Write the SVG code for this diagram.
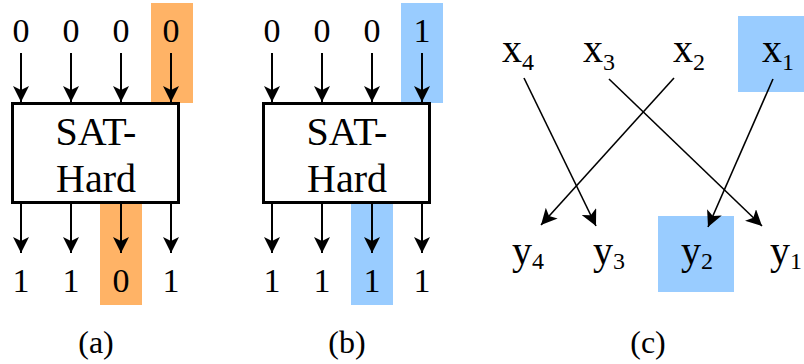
<svg xmlns="http://www.w3.org/2000/svg" width="804" height="364" viewBox="0 0 804 364">
<style>
.w{stroke:#000;stroke-width:2;fill:none}
.t{stroke:#000;stroke-width:1.6;fill:none}
.box{fill:#fff;stroke:#000;stroke-width:3}
.or{fill:#FFB366}
.bl{fill:#99CCFF}
</style>
<defs>
<marker id="ah" markerUnits="userSpaceOnUse" markerWidth="16" markerHeight="16" viewBox="0 0 16 16" refX="16" refY="8" orient="auto">
<path d="M0,0 L16,8 L0,16 L4,8 Z" fill="#000"/>
</marker>
</defs>
<g id="highlights">
<rect class="or" x="151" y="3" width="42" height="100"/>
<rect class="or" x="100" y="203" width="42" height="102"/>
<rect class="bl" x="401" y="3" width="42" height="100"/>
<rect class="bl" x="351" y="203" width="42" height="102"/>
<rect class="bl" x="738" y="16" width="76" height="76"/>
<rect class="bl" x="658" y="216" width="76" height="76"/>
</g>
<g id="connectors">
<line class="w" x1="21" y1="53" x2="21" y2="102" marker-end="url(#ah)"/>
<line class="w" x1="71" y1="53" x2="71" y2="102" marker-end="url(#ah)"/>
<line class="w" x1="121" y1="53" x2="121" y2="102" marker-end="url(#ah)"/>
<line class="w" x1="171" y1="53" x2="171" y2="102" marker-end="url(#ah)"/>
<line class="w" x1="21" y1="204" x2="21" y2="253" marker-end="url(#ah)"/>
<line class="w" x1="71" y1="204" x2="71" y2="253" marker-end="url(#ah)"/>
<line class="w" x1="121" y1="204" x2="121" y2="253" marker-end="url(#ah)"/>
<line class="w" x1="171" y1="204" x2="171" y2="253" marker-end="url(#ah)"/>
<line class="w" x1="272" y1="53" x2="272" y2="102" marker-end="url(#ah)"/>
<line class="w" x1="322" y1="53" x2="322" y2="102" marker-end="url(#ah)"/>
<line class="w" x1="372" y1="53" x2="372" y2="102" marker-end="url(#ah)"/>
<line class="w" x1="422" y1="53" x2="422" y2="102" marker-end="url(#ah)"/>
<line class="w" x1="272" y1="204" x2="272" y2="253" marker-end="url(#ah)"/>
<line class="w" x1="322" y1="204" x2="322" y2="253" marker-end="url(#ah)"/>
<line class="w" x1="372" y1="204" x2="372" y2="253" marker-end="url(#ah)"/>
<line class="w" x1="422" y1="204" x2="422" y2="253" marker-end="url(#ah)"/>
<line class="t" x1="524" y1="78" x2="596" y2="226" marker-end="url(#ah)"/>
<line class="t" x1="609" y1="79" x2="762" y2="226" marker-end="url(#ah)"/>
<line class="t" x1="674" y1="78" x2="541" y2="225" marker-end="url(#ah)"/>
<line class="t" x1="773" y1="79" x2="708" y2="227" marker-end="url(#ah)"/>
</g>
<g id="boxA">
<rect class="box" x="12.5" y="103.5" width="166" height="99"/>
<text x="96" y="145" font-size="40" text-anchor="middle" font-family="Liberation Serif">SAT-</text>
<text x="96" y="192" font-size="40" text-anchor="middle" font-family="Liberation Serif">Hard</text>
</g>
<g id="boxB">
<rect class="box" x="263.5" y="103.5" width="166" height="99"/>
<text x="347" y="145" font-size="40" text-anchor="middle" font-family="Liberation Serif">SAT-</text>
<text x="347" y="192" font-size="40" text-anchor="middle" font-family="Liberation Serif">Hard</text>
</g>
<g id="labelsA">
<text x="21" y="42" font-size="34" text-anchor="middle" font-family="Liberation Serif">0</text>
<text x="71" y="42" font-size="34" text-anchor="middle" font-family="Liberation Serif">0</text>
<text x="121" y="42" font-size="34" text-anchor="middle" font-family="Liberation Serif">0</text>
<text x="171" y="42" font-size="34" text-anchor="middle" font-family="Liberation Serif">0</text>
<text x="21" y="292" font-size="34" text-anchor="middle" font-family="Liberation Serif">1</text>
<text x="71" y="292" font-size="34" text-anchor="middle" font-family="Liberation Serif">1</text>
<text x="121" y="292" font-size="34" text-anchor="middle" font-family="Liberation Serif">0</text>
<text x="171" y="292" font-size="34" text-anchor="middle" font-family="Liberation Serif">1</text>
<text x="96" y="353" font-size="32" text-anchor="middle" font-family="Liberation Serif">(a)</text>
</g>
<g id="labelsB">
<text x="272" y="42" font-size="34" text-anchor="middle" font-family="Liberation Serif">0</text>
<text x="322" y="42" font-size="34" text-anchor="middle" font-family="Liberation Serif">0</text>
<text x="372" y="42" font-size="34" text-anchor="middle" font-family="Liberation Serif">0</text>
<text x="422" y="42" font-size="34" text-anchor="middle" font-family="Liberation Serif">1</text>
<text x="272" y="292" font-size="34" text-anchor="middle" font-family="Liberation Serif">1</text>
<text x="322" y="292" font-size="34" text-anchor="middle" font-family="Liberation Serif">1</text>
<text x="372" y="292" font-size="34" text-anchor="middle" font-family="Liberation Serif">1</text>
<text x="422" y="292" font-size="34" text-anchor="middle" font-family="Liberation Serif">1</text>
<text x="347" y="353" font-size="32" text-anchor="middle" font-family="Liberation Serif">(b)</text>
</g>
<g id="nodesC">
<text x="502" y="62" font-size="40" font-family="Liberation Serif">x<tspan font-size="24" dy="8">4</tspan></text>
<text x="583" y="62" font-size="40" font-family="Liberation Serif">x<tspan font-size="24" dy="8">3</tspan></text>
<text x="673" y="62" font-size="40" font-family="Liberation Serif">x<tspan font-size="24" dy="8">2</tspan></text>
<text x="762" y="62" font-size="40" font-family="Liberation Serif">x<tspan font-size="24" dy="8">1</tspan></text>
<text x="512" y="264" font-size="40" font-family="Liberation Serif">y<tspan font-size="24" dy="5">4</tspan></text>
<text x="593" y="264" font-size="40" font-family="Liberation Serif">y<tspan font-size="24" dy="5">3</tspan></text>
<text x="681" y="264" font-size="40" font-family="Liberation Serif">y<tspan font-size="24" dy="5">2</tspan></text>
<text x="770" y="264" font-size="40" font-family="Liberation Serif">y<tspan font-size="24" dy="5">1</tspan></text>
<text x="648" y="353" font-size="32" text-anchor="middle" font-family="Liberation Serif">(c)</text>
</g>
</svg>
